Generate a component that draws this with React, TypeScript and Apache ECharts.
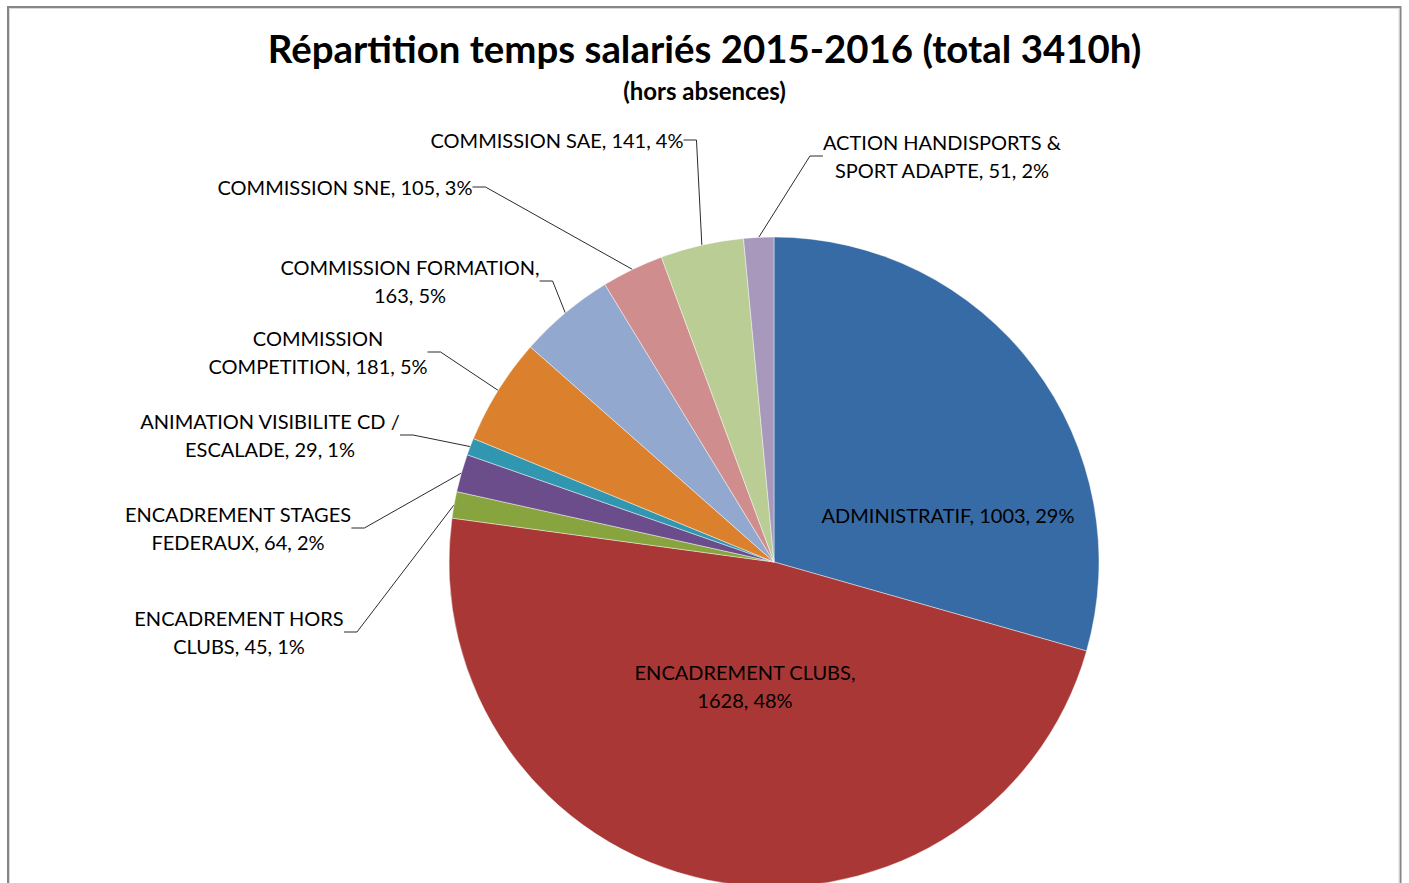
import React, { useEffect, useRef } from 'react';
import * as echarts from 'echarts';

const titleText = 'Répartition temps salariés 2015-2016 (total 3410h)';
const subtitleText = '(hors absences)';

const categories = [
  'ADMINISTRATIF',
  'ENCADREMENT CLUBS',
  'ENCADREMENT HORS CLUBS',
  'ENCADREMENT STAGES FEDERAUX',
  'ANIMATION VISIBILITE CD / ESCALADE',
  'COMMISSION COMPETITION',
  'COMMISSION FORMATION',
  'COMMISSION SNE',
  'COMMISSION SAE',
  'ACTION HANDISPORTS & SPORT ADAPTE',
];
const hours = [1003, 1628, 45, 64, 29, 181, 163, 105, 141, 51];

const sliceColors = [
  '#376BA5', '#A83735', '#87A43F', '#6B4D8B', '#3196AF',
  '#DB812E', '#93A8CE', '#D08D8D', '#B9CD94', '#A798BC',
];

// label layout (text centre in px) and number of words on the first line (0 = single line)
const labelPos: [number, number][] = [
  [948, 515], [745, 686], [239, 632], [238, 528], [270, 435],
  [318, 352], [410, 281], [345, 187], [557, 140], [942, 156],
];
const labelBreak = [0, 2, 2, 2, 4, 1, 2, 0, 0, 3];
const insideLabel = [true, true, false, false, false, false, false, false, false, false];

const FONT = 'Lato';

export default function App() {
  const ref = useRef<HTMLDivElement>(null);
  useEffect(() => {
    if (!ref.current) return;
    const chart = echarts.init(ref.current, null, { renderer: 'svg' });
    const data = categories.map((name, i) => ({
      name,
      value: hours[i],
      itemStyle: { color: sliceColors[i] },
      labelLine: { show: !insideLabel[i] },
    }));
    chart.setOption({
      animation: false,
      backgroundColor: '#ffffff',
      title: [
        {
          text: titleText,
          left: 'center',
          top: 24,
          textStyle: { fontFamily: FONT, fontWeight: 'bold', fontSize: 38.4, color: '#000' },
        },
        {
          text: subtitleText,
          left: 'center',
          top: 73,
          textStyle: { fontFamily: FONT, fontWeight: 'bold', fontSize: 24, color: '#000' },
        },
      ],
      graphic: [
        {
          type: 'rect',
          shape: { x: 8, y: 7, width: 1392.5, height: 920 },
          style: { fill: 'none', stroke: '#868686', lineWidth: 2 },
          silent: true,
        },
        {
          type: 'rect',
          shape: { x: 9.5, y: 8.5, width: 1389.5, height: 920 },
          style: { fill: 'none', stroke: '#d9d9d9', lineWidth: 1 },
          silent: true,
        },
      ],
      series: [
        {
          type: 'pie',
          center: [774, 562],
          radius: 325,
          startAngle: 90,
          clockwise: true,
          percentPrecision: 0,
          avoidLabelOverlap: false,
          itemStyle: { borderColor: 'rgba(255,255,255,0.55)', borderWidth: 0.8 },
          label: {
            show: true,
            position: 'outside',
            fontFamily: FONT,
            fontSize: 20,
            lineHeight: 28,
            color: '#000',
            align: 'center',
            formatter: (p: any) => {
              const txt = `${p.name}, ${p.value}, ${p.percent}%`;
              const k = labelBreak[p.dataIndex];
              if (!k) return txt;
              const w = txt.split(' ');
              return w.slice(0, k).join(' ') + '\n' + w.slice(k).join(' ');
            },
          },
          labelLine: {
            show: true,
            length: 10,
            length2: 13,
            lineStyle: { color: '#2b2b2b', width: 1 },
          },
          labelLayout: (params: any) => {
            const pos = labelPos[params.dataIndex];
            return { x: pos[0], y: pos[1], align: 'center', verticalAlign: 'middle' };
          },
          emphasis: { disabled: true },
          data,
        },
      ],
    });
    return () => chart.dispose();
  }, []);
  return (
    <div
      ref={ref}
      style={{ position: 'absolute', left: 0, top: 0, width: 1409, height: 883, overflow: 'hidden' }}
    />
  );
}
